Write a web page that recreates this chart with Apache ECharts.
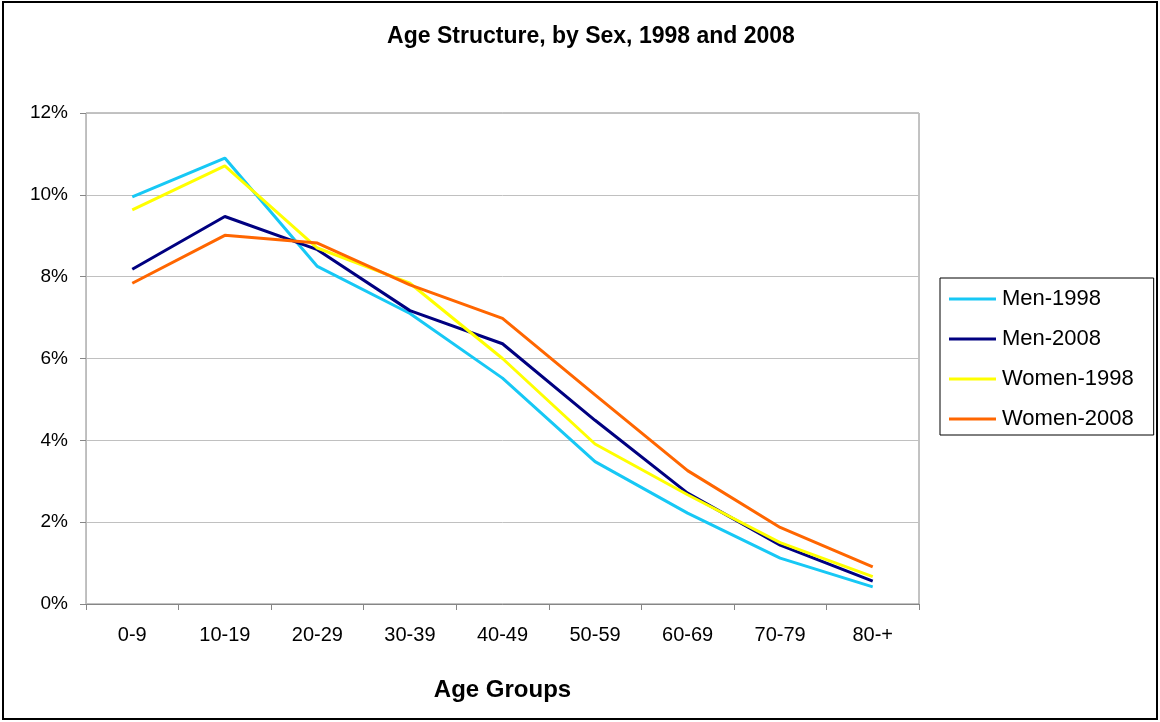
<!DOCTYPE html>
<html>
<head>
<meta charset="utf-8">
<title>Age Structure, by Sex, 1998 and 2008</title>
<script src="https://cdn.jsdelivr.net/npm/echarts@6/dist/echarts.min.js"></script>
<style>
  html, body { margin: 0; padding: 0; background: #ffffff; }
  #chart { width: 1160px; height: 722px; }
</style>
</head>
<body>
<div id="chart"></div>
<script>
// Age groups on the category axis
var ageGroups = ['0-9', '10-19', '20-29', '30-39', '40-49', '50-59', '60-69', '70-79', '80-+'];

// Share of the population in each age group, percent
var men1998   = [9.95, 10.90, 8.25, 7.10, 5.52, 3.48, 2.22, 1.12, 0.42];
var men2008   = [8.18, 9.47, 8.66, 7.17, 6.36, 4.49, 2.71, 1.44, 0.56];
var women1998 = [9.63, 10.71, 8.70, 7.84, 6.00, 3.91, 2.67, 1.50, 0.67];
var women2008 = [7.84, 9.01, 8.82, 7.80, 6.98, 5.11, 3.26, 1.87, 0.91];

// Value axis ticks
var yTicks = [0, 2, 4, 6, 8, 10, 12];

var seriesDefs = [
  { name: 'Men-1998',   data: men1998,   color: '#17c8f5' },
  { name: 'Men-2008',   data: men2008,   color: '#000080' },
  { name: 'Women-1998', data: women1998, color: '#ffff00' },
  { name: 'Women-2008', data: women2008, color: '#ff6600' }
];

var FONT = '"Liberation Sans", Arial, sans-serif';

var chart = echarts.init(document.getElementById('chart'), null, { renderer: 'canvas' });

chart.setOption({
  backgroundColor: '#ffffff',
  animation: false,
  textStyle: { fontFamily: FONT },
  graphic: [
    {
      type: 'rect',
      shape: { x: 3, y: 2, width: 1154, height: 717 },
      style: { fill: 'none', stroke: '#000000', lineWidth: 2 },
      silent: true
    },
    {
      type: 'text',
      x: 591,
      y: 37,
      style: {
        text: 'Age Structure, by Sex, 1998 and 2008',
        font: 'bold 23px ' + FONT,
        fill: '#000000',
        textAlign: 'center',
        textVerticalAlign: 'middle'
      },
      silent: true
    }
  ],
  legend: {
    orient: 'vertical',
    left: 940,
    top: 278,
    padding: [10, 20, 5, 9],
    itemGap: 18,
    itemWidth: 47,
    itemHeight: 3,
    icon: 'rect',
    borderColor: '#000000',
    borderWidth: 1,
    backgroundColor: '#ffffff',
    textStyle: { fontFamily: FONT, fontSize: 22, color: '#000000', lineHeight: 22, padding: [0, 0, 0, 1] },
    data: seriesDefs.map(function (s) { return s.name; })
  },
  grid: {
    left: 86,
    right: 241,
    top: 113,
    bottom: 118,
    show: true,
    borderColor: '#868686',
    borderWidth: 1,
    containLabel: false
  },
  xAxis: {
    type: 'category',
    data: ageGroups,
    boundaryGap: true,
    name: 'Age Groups',
    nameLocation: 'middle',
    nameGap: 74,
    nameTextStyle: { fontFamily: FONT, fontSize: 24, fontWeight: 'bold', color: '#000000' },
    axisLine: { lineStyle: { color: '#868686', width: 1 } },
    axisTick: { show: true, length: 6, alignWithLabel: false, lineStyle: { color: '#868686' } },
    axisLabel: { fontFamily: FONT, fontSize: 20, color: '#000000', margin: 21 },
    splitLine: { show: false }
  },
  yAxis: {
    type: 'value',
    min: yTicks[0],
    max: yTicks[yTicks.length - 1],
    interval: 2,
    axisLine: { show: true, lineStyle: { color: '#bdbdbd', width: 1 } },
    axisTick: { show: true, length: 6, lineStyle: { color: '#868686' } },
    axisLabel: {
      fontFamily: FONT, fontSize: 19, color: '#000000', margin: 18,
      formatter: function (v) { return v + '%'; }
    },
    splitLine: { show: true, lineStyle: { color: '#c0c0c0', width: 1 } }
  },
  series: seriesDefs.map(function (s) {
    return {
      name: s.name,
      type: 'line',
      data: s.data,
      color: s.color,
      showSymbol: false,
      symbol: 'none',
      lineStyle: { color: s.color, width: 3 },
      itemStyle: { color: s.color },
      emphasis: { disabled: true }
    };
  })
});
</script>
</body>
</html>
